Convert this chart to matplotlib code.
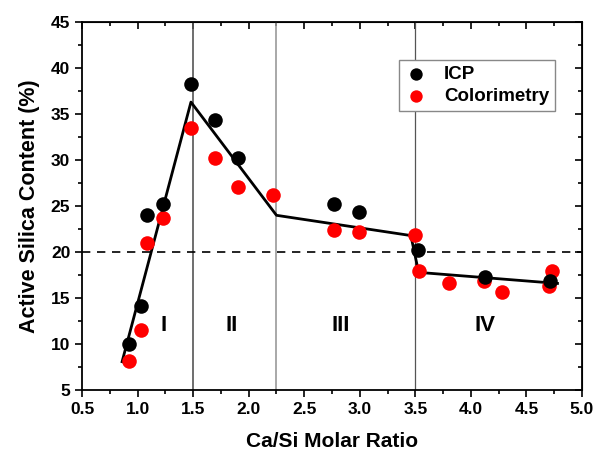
import matplotlib
matplotlib.use("Agg")
import matplotlib.pyplot as plt

plt.rcParams['font.family'] = ['Liberation Sans', 'DejaVu Sans']
plt.rcParams['font.weight'] = 'bold'

# ICP data
icp_x = [0.92, 1.03, 1.08, 1.23, 1.48, 1.70, 1.90, 2.77, 2.99, 3.52, 4.13, 4.71]
icp_y = [10.0, 14.1, 24.0, 25.2, 38.3, 34.4, 30.2, 25.2, 24.4, 20.2, 17.3, 16.9]

# Colorimetry data
col_x = [0.92, 1.03, 1.08, 1.23, 1.48, 1.70, 1.90, 2.22, 2.77, 2.99, 3.50, 3.53,
         3.80, 4.12, 4.28, 4.70, 4.73]
col_y = [8.2, 11.5, 21.0, 23.7, 33.5, 30.2, 27.1, 26.2, 22.4, 22.2, 21.9, 18.0,
         16.7, 16.9, 15.7, 16.3, 17.9]

# piecewise fit line
fit_x = [0.86, 1.48, 2.25, 3.46, 3.53, 4.78]
fit_y = [8.1, 36.3, 24.0, 21.8, 17.8, 16.6]

region_x = [1.23, 1.85, 2.83, 4.13]
region_lbl = ['I', 'II', 'III', 'IV']

fig = plt.figure(figsize=(5.95, 4.58), dpi=100)
ax = fig.add_axes([0.138, 0.148, 0.840, 0.804])

ax.axvline(1.5, color='#555555', lw=1.2, zorder=1)
ax.axvline(2.25, color='#999999', lw=1.2, zorder=1)
ax.axvline(3.5, color='#555555', lw=0.9, zorder=1)
ax.axhline(20, color='black', lw=1.2, ls=(0, (5, 4)), zorder=1)

ax.plot(fit_x, fit_y, color='black', lw=2, zorder=2)
ax.scatter(col_x, col_y, s=110, color='#ff0000', zorder=3, label='Colorimetry', linewidths=0)
ax.scatter(icp_x, icp_y, s=110, color='black', zorder=4, label='ICP', linewidths=0)

for x, t in zip(region_x, region_lbl):
    ax.text(x, 12, t, fontsize=16, fontweight='bold', ha='center', va='center')

ax.set_xlim(0.5, 5.0)
ax.set_ylim(5, 45)
ax.set_xticks([0.5, 1.0, 1.5, 2.0, 2.5, 3.0, 3.5, 4.0, 4.5, 5.0])
ax.set_yticks(range(5, 46, 5))
ax.set_xticks([0.75 + 0.5 * i for i in range(9)], minor=True)
ax.set_yticks([7.5 + 5 * i for i in range(8)], minor=True)
ax.tick_params(which='both', direction='out', width=1.2, labelsize=12.5)
ax.tick_params(which='major', length=5)
ax.tick_params(which='minor', length=3)
for s in ax.spines.values():
    s.set_linewidth(1.3)

# inward ticks on top/right
top = ax.secondary_xaxis('top')
top.set_xticks(ax.get_xticks())
top.set_xticks(ax.get_xticks(minor=True), minor=True)
top.tick_params(which='both', direction='in', labeltop=False, width=1.2)
top.tick_params(which='major', length=5)
top.tick_params(which='minor', length=3)
right = ax.secondary_yaxis('right')
right.set_yticks(ax.get_yticks())
right.set_yticks(ax.get_yticks(minor=True), minor=True)
right.tick_params(which='both', direction='in', labelright=False, width=1.2)
right.tick_params(which='major', length=5)
right.tick_params(which='minor', length=3)

ax.set_xlabel('Ca/Si Molar Ratio', fontsize=15, fontweight='bold', labelpad=11)
ax.set_ylabel('Active Silica Content (%)', fontsize=15.5, fontweight='bold', labelpad=8)

handles, labels = ax.get_legend_handles_labels()
leg = ax.legend(handles[::-1], labels[::-1], loc='upper right',
                bbox_to_anchor=(0.946, 0.897), borderaxespad=0, fontsize=13.5,
                fancybox=False, edgecolor='#888888', framealpha=1, markerscale=0.85,
                handletextpad=0.9, borderpad=0.3, labelspacing=0.3, handlelength=1.2)
leg.get_frame().set_linewidth(1.0)
leg.set_zorder(5)

fig.savefig('out.png', dpi=100)
